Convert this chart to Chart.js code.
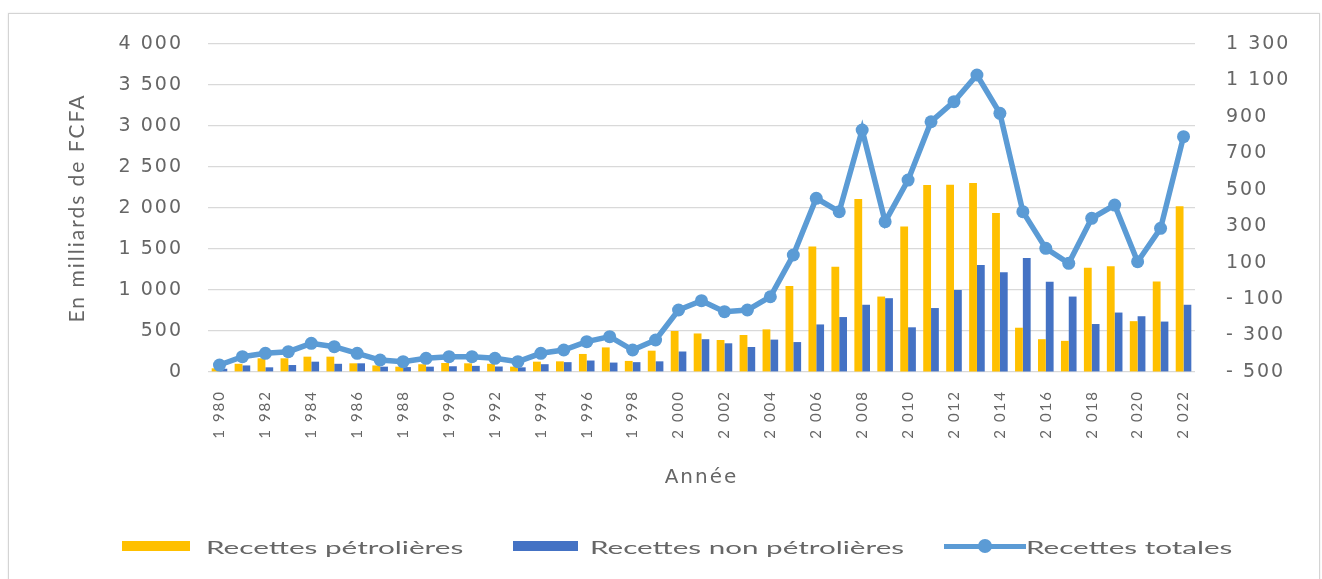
<!DOCTYPE html>
<html>
<head>
<meta charset="utf-8">
<script src="https://cdn.jsdelivr.net/npm/chart.js@4.4.1/dist/chart.umd.min.js"></script>
<style>
  html, body { margin: 0; padding: 0; background: #fff; overflow: hidden; }
  #wrap { position: relative; width: 1322px; height: 579px; }
  #frame { position: absolute; left: 8px; top: 13px; width: 1310px; height: 600px;
           border: 1px solid #d4d4d4; box-shadow: 0 0 2px #e6e6e6; }
  canvas { position: absolute; left: 0; top: 0; }
  .sw { position: absolute; height: 10px; }
  .lg { position: absolute; font-family: Lato, sans-serif; font-size: 18px; color: #666;
        white-space: nowrap; transform-origin: left center; line-height: 22px; }
  .ln { position: absolute; height: 5px; background: #5B9BD5; }
  .dot { position: absolute; width: 14px; height: 14px; border-radius: 50%; background: #5B9BD5; }
</style>
</head>
<body>
<div id="wrap">
  <div id="frame"></div>
  <canvas id="chart" width="1322" height="579"></canvas>
  <div class="sw" style="left:122px; top:541px; width:68px; background:#FFC000;"></div>
  <span class="lg" data-w="257" style="left:206px; top:536px;">Recettes pétrolières</span>
  <div class="sw" style="left:513px; top:541px; width:65px; background:#4472C4;"></div>
  <span class="lg" data-w="314" style="left:590px; top:536px;">Recettes non pétrolières</span>
  <div class="ln" style="left:944px; top:544px; width:82px;"></div>
  <div class="dot" style="left:978px; top:539px;"></div>
  <span class="lg" data-w="207" style="left:1026px; top:536px;">Recettes totales</span>
</div>
<script>
// années 1980 - 2022, en milliards de FCFA
var years = [1980, 1981, 1982, 1983, 1984, 1985, 1986, 1987, 1988, 1989,
             1990, 1991, 1992, 1993, 1994, 1995, 1996, 1997, 1998, 1999,
             2000, 2001, 2002, 2003, 2004, 2005, 2006, 2007, 2008, 2009,
             2010, 2011, 2012, 2013, 2014, 2015, 2016, 2017, 2018, 2019,
             2020, 2021, 2022];

var petrol = [45, 100, 167, 167, 187, 187, 106, 80, 65, 95,
              110, 106, 100, 65, 126, 130, 220, 300, 135, 260,
              500, 470, 390, 451, 520, 1050, 1530, 1285, 2110, 920,
              1775, 2280, 2285, 2305, 1940, 540, 400, 380, 1270, 1290,
              620, 1105, 2020];

var nonPetrol = [40, 80, 57, 85, 126, 100, 106, 65, 60, 65,
                 70, 75, 67, 57, 95, 120, 140, 115, 120, 130,
                 250, 400, 350, 305, 395, 365, 580, 670, 820, 900,
                 545, 780, 1000, 1305, 1215, 1390, 1100, 920, 585, 725,
                 680, 615, 820];

var totals = [85, 187, 228, 248, 350, 309, 228, 146, 126, 167,
              187, 187, 167, 126, 228, 268, 370, 431, 268, 390,
              756, 870, 736, 756, 918, 1427, 2118, 1955, 2951, 1833,
              2341, 3052, 3297, 3622, 3155, 1955, 1508, 1325, 1874, 2036,
              1345, 1752, 2870];

var leftTicks = { min: 0, max: 4000, step: 500 };
var rightTicks = { min: -500, max: 1300, step: 200 };

var grey = '#666666';

function fmt(v) {
  var s = String(Math.abs(v)).replace(/\B(?=(\d{3})+(?!\d))/g, ' ');
  return v < 0 ? '- ' + s : s;
}

// Excel-like wide text
var spacing = {
  id: 'spacing',
  beforeUpdate: function(chart) { chart.ctx.letterSpacing = '2px'; },
  beforeDraw: function(chart) { chart.ctx.letterSpacing = '2px'; }
};

var config = {
  type: 'bar',
  data: {
    labels: years,
    datasets: [{
      type: 'line',
      label: 'Recettes totales',
      data: totals,
      yAxisID: 'y',
      borderColor: '#5B9BD5',
      backgroundColor: '#5B9BD5',
      borderWidth: 5.5,
      pointRadius: 6.5,
      pointBorderWidth: 0,
      pointBackgroundColor: '#5B9BD5',
      tension: 0,
      order: 0
    }, {
      label: 'Recettes pétrolières',
      data: petrol,
      yAxisID: 'y',
      backgroundColor: '#FFC000',
      categoryPercentage: 0.68,
      barPercentage: 1.0,
      order: 1
    }, {
      label: 'Recettes non pétrolières',
      data: nonPetrol,
      yAxisID: 'y',
      backgroundColor: '#4472C4',
      categoryPercentage: 0.68,
      barPercentage: 1.0,
      order: 1
    }]
  },
  options: {
    responsive: false,
    animation: false,
    layout: { padding: { left: 50, right: 0, top: 44, bottom: 89 } },
    plugins: {
      legend: { display: false },
      tooltip: { enabled: false }
    },
    scales: {
      x: {
        grid: { display: false },
        border: { display: false },
        ticks: {
          autoSkip: false,
          maxRotation: 90,
          minRotation: 90,
          padding: 10,
          color: grey,
          font: { family: 'Lato', size: 15 },
          callback: function(value, index) {
            return index % 2 === 0 ? fmt(this.getLabelForValue(value)) : null;
          }
        },
        title: {
          display: true,
          text: 'Année',
          color: grey,
          padding: 0,
          font: { family: 'DejaVu Sans', size: 20 }
        },
        afterFit: function(s) { s.height = 118; }
      },
      y: {
        position: 'left',
        min: leftTicks.min,
        max: leftTicks.max,
        ticks: {
          stepSize: leftTicks.step,
          padding: 25,
          color: grey,
          font: { family: 'DejaVu Sans', size: 19 },
          callback: function(v) { return fmt(v); }
        },
        grid: { color: '#d9d9d9', lineWidth: 1.2, drawTicks: false },
        border: { display: false },
        title: {
          display: true,
          text: 'En milliards de FCFA',
          color: grey,
          padding: { top: 15, bottom: 0 },
          font: { family: 'Lato', size: 21 }
        },
        afterFit: function(s) { s.width = 158; }
      },
      y1: {
        position: 'right',
        min: rightTicks.min,
        max: rightTicks.max,
        ticks: {
          stepSize: rightTicks.step,
          padding: 31,
          color: grey,
          font: { family: 'DejaVu Sans', size: 19 },
          callback: function(v) { return fmt(v); }
        },
        grid: { display: false, drawTicks: false },
        border: { display: false },
        afterFit: function(s) { s.width = 127; }
      }
    }
  },
  plugins: [spacing]
};

window.onload = function() {
  var ctx = document.getElementById('chart').getContext('2d');
  window.myChart = new Chart(ctx, config);

  // stretch legend texts like the original
  document.querySelectorAll('.lg').forEach(function(el) {
    var w = +el.getAttribute('data-w');
    var r = w / el.offsetWidth;
    el.style.transform = 'scaleX(' + r + ')';
  });
};
</script>
</body>
</html>
